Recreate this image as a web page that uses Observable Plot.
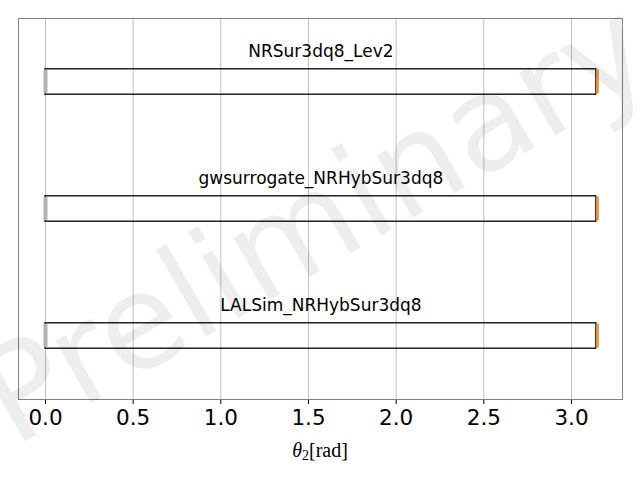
<!DOCTYPE html>
<html>
<head>
<meta charset="utf-8">
<script src="https://cdn.jsdelivr.net/npm/d3@7"></script>
<script src="https://cdn.jsdelivr.net/npm/@observablehq/plot@0.6"></script>
<style>
html,body{margin:0;padding:0;background:#fff;}
</style>
</head>
<body>
<div id="chart"></div>
<script>
const approximants = ["NRSur3dq8_Lev2", "gwsurrogate_NRHybSur3dq8", "LALSim_NRHybSur3dq8"];
const rowPos = [2, 1, 0];
const lower = [0, 0, 0];
const upper = [Math.PI, Math.PI, Math.PI];
const lowMarker = [0, 0, 0];
const highMarker = [Math.PI, Math.PI, Math.PI];
const xTicks = [0, 0.5, 1.0, 1.5, 2.0, 2.5, 3.0];

const rows = approximants.map((name, i) => ({
  name, pos: rowPos[i], lo: lower[i], hi: upper[i], mlo: lowMarker[i], mhi: highMarker[i]
}));

const W = 640, H = 480;
const fmt = d3.format(".1f");
const plot = Plot.plot({
  width: W, height: H,
  marginLeft: 18, marginRight: 18, marginTop: 18, marginBottom: 81,
  style: {fontFamily: "DejaVu Sans", background: "#fff", color: "#000"},
  x: {domain: [-0.154, 3.291], ticks: xTicks, label: null, grid: false},
  y: {domain: [-0.5, 2.5], axis: null},
  marks: [
    Plot.gridX(xTicks, {stroke: "#b0b0b0", strokeOpacity: 1, strokeWidth: 0.8}),
    Plot.rect(rows, {x1: "lo", x2: "hi", y1: d => d.pos - 0.1, y2: d => d.pos + 0.1, fill: "none", stroke: "#000", strokeWidth: 1.3}),
    Plot.ruleX(rows, {x: "mlo", y1: d => d.pos - 0.092, y2: d => d.pos + 0.092, stroke: "#b4b4b4", strokeWidth: 4}),
    Plot.ruleX(rows, {x: "mhi", y1: d => d.pos - 0.095, y2: d => d.pos + 0.095, stroke: "#e8913f", strokeWidth: 3, dx: 1}),
    Plot.text(rows, {x: d => (d.lo + d.hi) / 2, y: d => d.pos + 0.2, text: "name", textAnchor: "middle", lineAnchor: "bottom", fontSize: 17, fill: "#000"}),
    Plot.axisX(xTicks, {tickSize: 5, stroke: "#000", tickFormat: () => "", label: null}),
    Plot.text(xTicks, {x: d => d, frameAnchor: "bottom", lineAnchor: "top", dy: 10, text: d => fmt(d), fontSize: 21.5, fill: "#000", textAnchor: "middle"}),
    Plot.frame({stroke: "#808080", strokeWidth: 1}),
    Plot.text(["Preliminary"], {frameAnchor: "middle", dx: -5, dy: 16, rotate: -30, fontSize: 132, fill: "#000", fillOpacity: 0.065, text: d => d})
  ]
});
document.getElementById("chart").appendChild(plot);

const svg = d3.select(plot);

// axis label with math styling
const lab = svg.append("text")
  .attr("x", 320).attr("y", 457)
  .attr("text-anchor", "middle")
  .attr("font-family", "Liberation Serif, DejaVu Serif, serif")
  .attr("font-size", 20)
  .attr("fill", "#000");
lab.append("tspan").attr("font-style", "italic").text("θ");
lab.append("tspan").attr("font-size", 14).attr("dy", 3).text("2");
lab.append("tspan").attr("dy", -3).text("[rad]");
</script>
</body>
</html>
